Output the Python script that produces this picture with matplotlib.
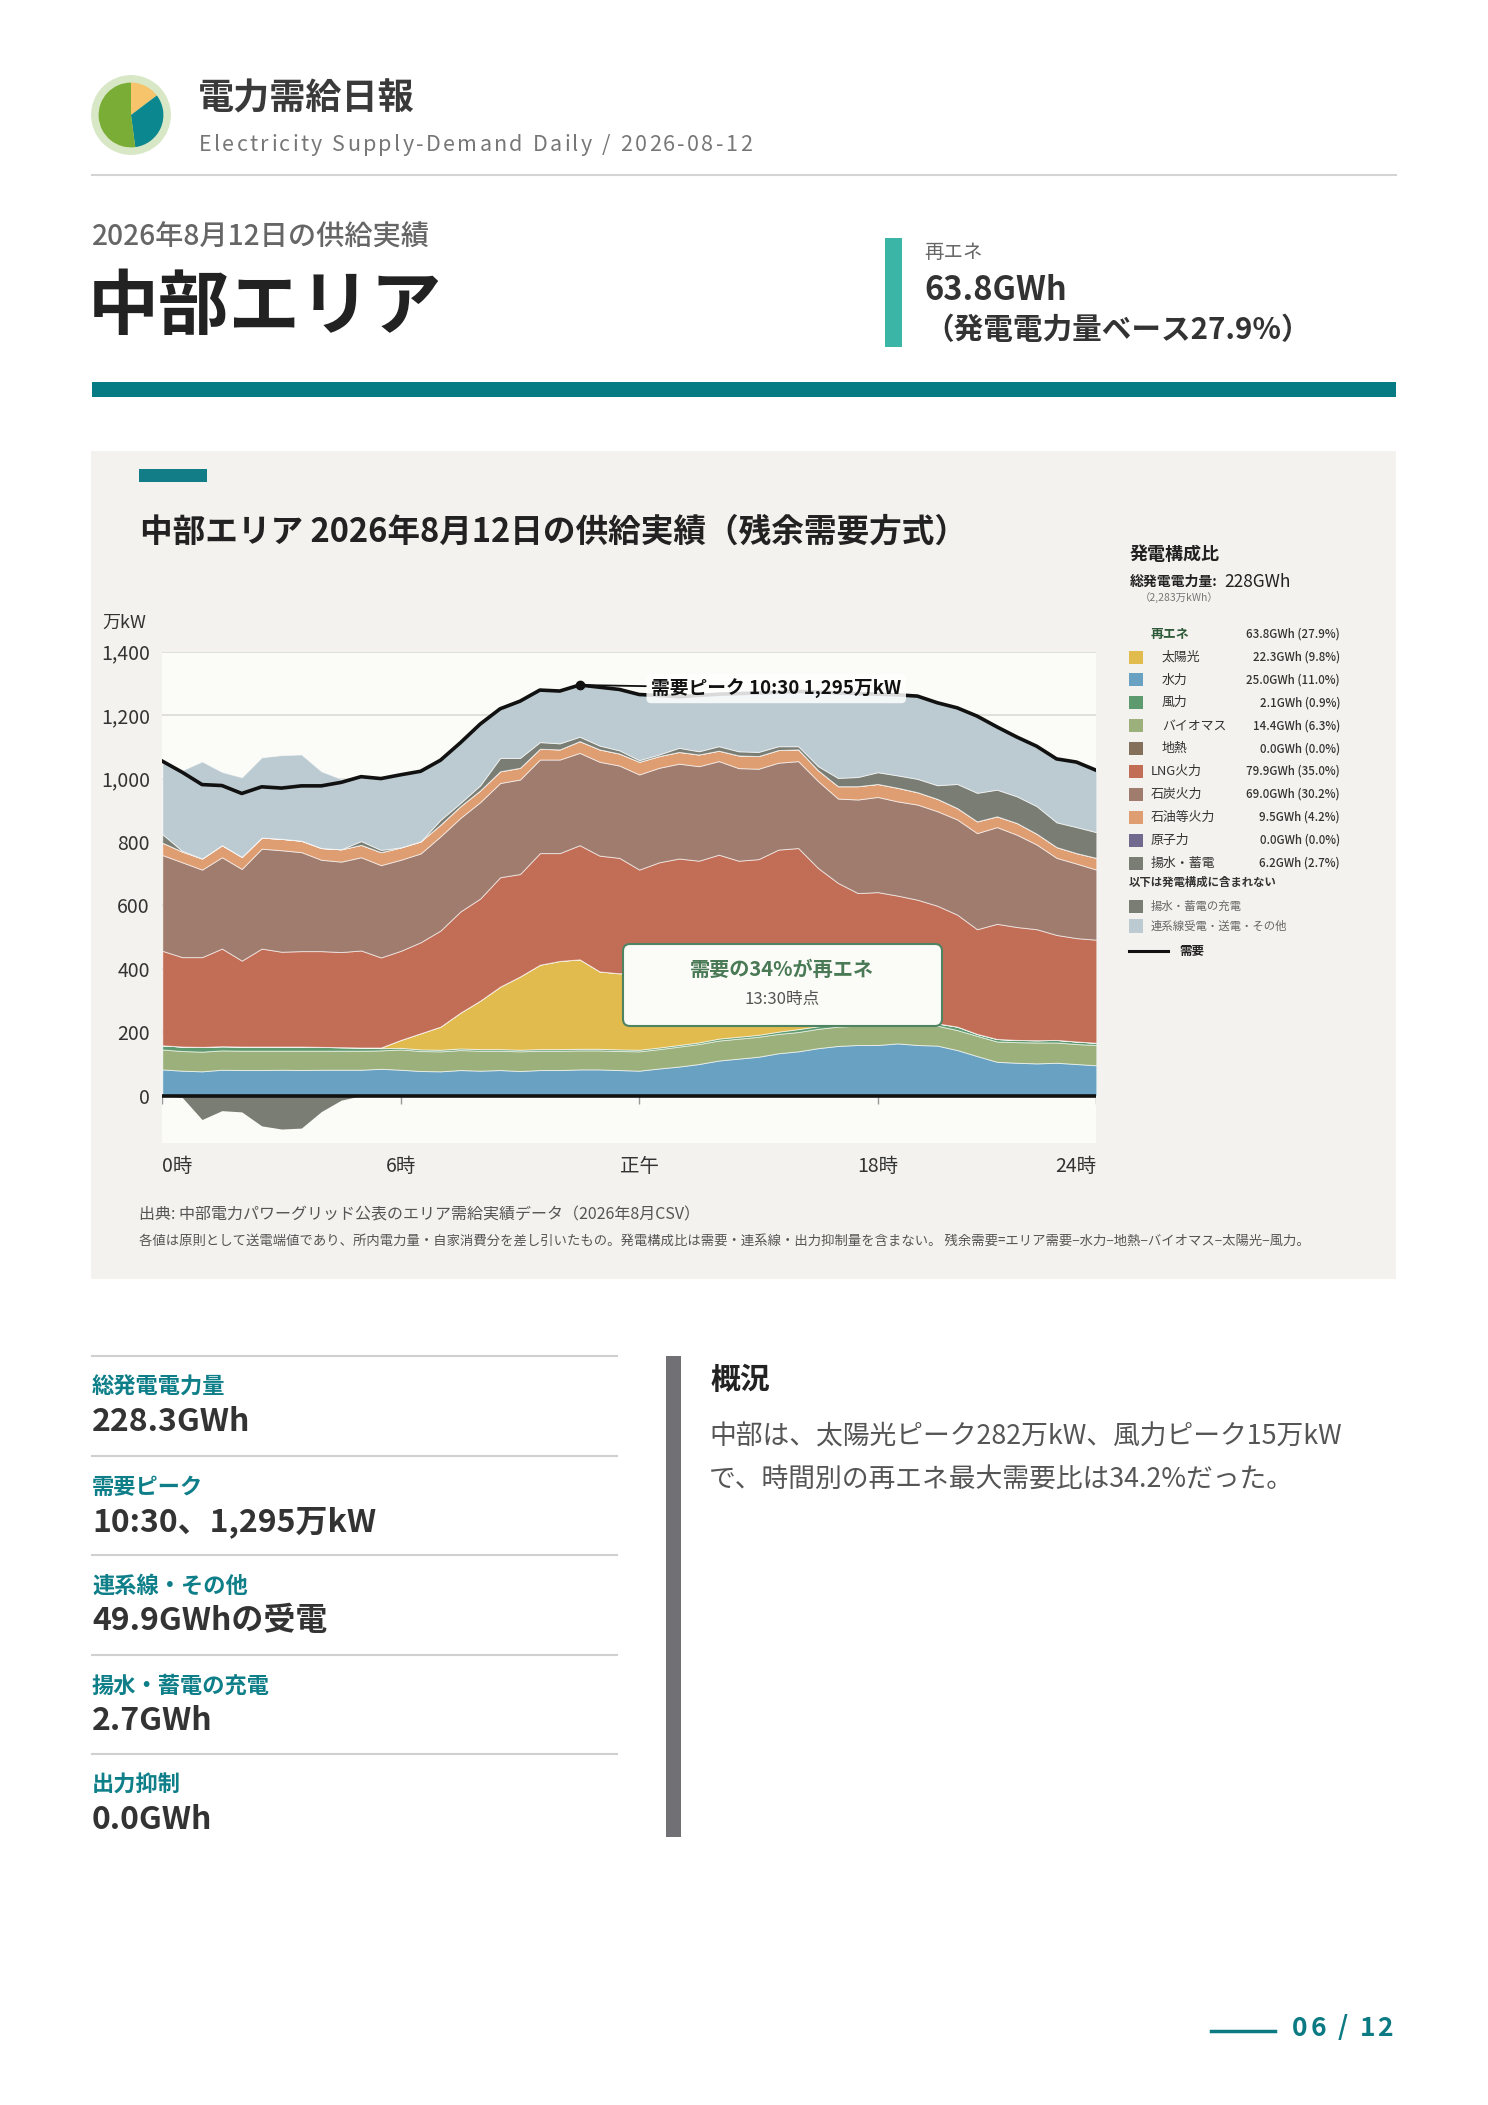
import numpy as np
import matplotlib.pyplot as plt
from matplotlib.patches import Rectangle, FancyBboxPatch
from matplotlib.lines import Line2D
from matplotlib.transforms import IdentityTransform

plt.rcParams['font.family'] = ['Noto Sans CJK JP', 'DejaVu Sans']

# 30-minute values, 万kW (index 0 = 0:00 ... 47 = 23:30)
hydro = [83, 79, 77, 82, 81, 81, 82, 81, 82, 82,
         82, 85, 82, 78, 77, 81, 79, 81, 78, 81,
         81, 83, 83, 81, 79, 86, 92, 100, 111, 117,
         123, 134, 140, 150, 157, 160, 160, 165, 160, 158,
         144, 125, 107, 104, 102, 104, 100, 96]
biomass = [63, 62, 62, 61, 61, 61, 60, 61, 60, 60,
           60, 58, 64, 63, 63, 63, 63, 61, 62, 61,
           61, 60, 60, 60, 61, 61, 63, 63, 63, 63,
           63, 61, 61, 61, 61, 61, 62, 58, 62, 63,
           63, 64, 64, 65, 66, 64, 63, 64]
wind = [13, 14, 15, 13, 13, 13, 13, 13, 12, 11,
        10, 7, 5, 5, 5, 5, 5, 5, 5, 5,
        5, 5, 5, 5, 5, 5, 5, 5, 6, 6,
        6, 7, 9, 8, 7, 7, 7, 7, 7, 7,
        11, 6, 8, 7, 7, 8, 8, 7]
solar = [0, 0, 0, 0, 0, 0, 0, 0, 0, 0,
         0, 2, 25, 51, 73, 113, 153, 197, 231, 266,
         278, 282, 244, 240, 245, 258, 265, 264, 245, 230,
         200, 158, 120, 71, 35, 17, 6, 3, 1, 0,
         0, 0, 0, 0, 0, 0, 0, 0]
geothermal = [0] * 48
lng = [298, 282, 283, 308, 271, 309, 299, 301, 302, 300,
       306, 284, 281, 287, 303, 319, 322, 345, 323, 352,
       340, 360, 365, 364, 323, 326, 323, 309, 335, 325,
       354, 416, 451, 428, 411, 394, 407, 398, 388, 371,
       353, 330, 363, 356, 350, 331, 326, 325]
coal = [302, 299, 276, 288, 289, 315, 320, 312, 288, 285,
        294, 291, 287, 280, 297, 295, 304, 297, 298, 295,
        295, 291, 296, 291, 300, 298, 299, 298, 295, 292,
        285, 274, 274, 274, 266, 295, 300, 297, 300, 298,
        300, 303, 305, 291, 267, 243, 235, 221]
oil = [39, 34, 35, 38, 38, 35, 36, 36, 37, 39,
       39, 41, 39, 38, 37, 37, 37, 37, 37, 34,
       32, 37, 39, 38, 40, 37, 37, 37, 33, 40,
       40, 40, 37, 34, 39, 42, 41, 43, 39, 39,
       36, 37, 34, 37, 34, 34, 33, 37]
nuclear = [0] * 48
pumped = [27, 2, 0, 0, 0, 0, 0, 0, 0, 0,
          12, 7, 0, 0, 15, 10, 16, 42, 31, 21,
          19, 14, 12, 10, 5, 5, 13, 10, 14, 13,
          13, 12, 10, 13, 26, 29, 37, 39, 42, 43,
          76, 90, 84, 84, 87, 78, 82, 81]
interconnect = [230, 254, 306, 231, 251, 253, 264, 272, 242, 222,
                203, 225, 229, 221, 188, 190, 193, 155, 179, 164,
                165, 163, 184, 192, 207, 186, 161, 176, 164, 182,
                186, 170, 173, 234, 268, 263, 246, 254, 261, 260,
                240, 242, 198, 187, 189, 200, 205, 195]
charge = [0, -5, -75, -47, -51, -95, -105, -102, -50, -14] + [0] * 38
demand = [1055, 1020, 981, 978, 953, 974, 970, 977, 977, 988,
          1006, 1000, 1012, 1023, 1058, 1113, 1172, 1220, 1244, 1279,
          1276, 1295, 1288, 1281, 1265, 1262, 1258, 1262, 1266, 1268,
          1270, 1272, 1275, 1273, 1270, 1268, 1266, 1264, 1260, 1239,
          1223, 1197, 1163, 1131, 1102, 1062, 1052, 1026]

tick_pos = [0, 12, 24, 36, 47]
tick_labels = ['0時', '6時', '正午', '18時', '24時']

colors = {
    'solar': '#e2bb4e', 'hydro': '#68a1c2', 'wind': '#5d9a6e', 'biomass': '#9bb07a',
    'geo': '#84705a', 'lng': '#c26e57', 'coal': '#a07c6e', 'oil': '#df9d72',
    'nuclear': '#716a8e', 'pumped': '#7a7d73', 'inter': '#bccbd1',
}

legend_rows = [
    ('太陽光', '22.3GWh (9.8%)', colors['solar'], True),
    ('水力', '25.0GWh (11.0%)', colors['hydro'], True),
    ('風力', '2.1GWh (0.9%)', colors['wind'], True),
    ('バイオマス', '14.4GWh (6.3%)', colors['biomass'], True),
    ('地熱', '0.0GWh (0.0%)', colors['geo'], True),
    ('LNG火力', '79.9GWh (35.0%)', colors['lng'], False),
    ('石炭火力', '69.0GWh (30.2%)', colors['coal'], False),
    ('石油等火力', '9.5GWh (4.2%)', colors['oil'], False),
    ('原子力', '0.0GWh (0.0%)', colors['nuclear'], False),
    ('揚水・蓄電', '6.2GWh (2.7%)', colors['pumped'], False),
]

kpi_labels = ['総発電電力量', '需要ピーク', '連系線・その他', '揚水・蓄電の充電', '出力抑制']
kpi_values = ['228.3GWh', '10:30、1,295万kW', '49.9GWhの受電', '2.7GWh', '0.0GWh']

W, H = 1488, 2105
fig = plt.figure(figsize=(W / 100, H / 100), dpi=100)
fig.patch.set_facecolor('white')
renderer = fig.canvas.get_renderer()


def fx(x):
    return x / W


def fy(y):
    return 1 - y / H


def txt(x, y, s, size, color='#333', weight='normal', ha='left', va='center', **kw):
    return fig.text(fx(x), fy(y), s, fontsize=size, color=color, fontweight=weight,
                    ha=ha, va=va, **kw)


def spaced(x, y, s, size, gap, color='#333', weight='normal', ha='left'):
    # letter-spaced text, one glyph at a time
    widths = []
    for ch in s:
        t = txt(0, 0, ch, size, color, weight)
        widths.append(t.get_window_extent(renderer).width if ch != ' ' else size * 0.35)
        t.remove()
    total = sum(widths) + gap * (len(s) - 1)
    cx = x if ha == 'left' else x - total
    for ch, w in zip(s, widths):
        if ch != ' ':
            txt(cx, y, ch, size, color, weight)
        cx += w + gap


def rect(x0, y0, x1, y1, color, z=0):
    fig.add_artist(Rectangle((fx(x0), fy(y1)), fx(x1) - fx(x0), fy(y0) - fy(y1),
                             transform=fig.transFigure, facecolor=color,
                             edgecolor='none', zorder=z))


def hline(x0, x1, y, color, lw):
    fig.add_artist(Line2D([fx(x0), fx(x1)], [fy(y), fy(y)], color=color, lw=lw,
                          transform=fig.transFigure))


# header icon
icon = fig.add_axes([fx(131 - 40), fy(115 + 40), 80 / W, 80 / H])
icon.add_patch(plt.Circle((0, 0), 0.98, color='#d8e7c5'))
icon.pie([14.7, 33.2, 52.1], colors=['#f7c46c', '#0b8790', '#7aad35'], radius=0.81,
         startangle=90, counterclock=False, wedgeprops=dict(linewidth=0))
icon.set_xlim(-1.0, 1.0)
icon.set_ylim(-1.0, 1.0)
icon.set_aspect('equal')
icon.axis('off')

txt(198, 99, '電力需給日報', 26, '#3a3a3a', 'bold')
spaced(199, 145, 'Electricity Supply-Demand Daily / 2026-08-12', 15.5, 2.3, '#777')
hline(92, 1396, 175, '#d4d4d4', 1.5)

txt(92, 237, '2026年8月12日の供給実績', 20.3, '#666', 'medium')
txt(88, 308, '中部エリア', 51, '#222', 'bold')
rect(885, 238, 902, 347, '#3bb5a5')
txt(924, 253, '再エネ', 14, '#666')
txt(924, 290, '63.8GWh', 23.5, '#333', 'bold')
txt(924, 330, '（発電電力量ベース27.9%）', 21.3, '#333', 'bold')
rect(92, 382, 1396, 397, '#067b84')

# chart panel
rect(91, 451, 1396, 1279, '#f3f2ee', z=-1)
rect(139, 469, 207, 482, '#137d87')
txt(140, 532, '中部エリア 2026年8月12日の供給実績（残余需要方式）', 23.5, '#222', 'bold')
txt(102, 623, '万kW', 13, '#333')

ax = fig.add_axes([fx(162.3), fy(1143.3), (1096.3 - 162.3) / W, (1143.3 - 651.7) / H])
x = np.arange(48)
ax.set_facecolor('#fbfbf7')
for s in ax.spines.values():
    s.set_visible(False)
for v in range(200, 1401, 200):
    ax.axhline(v, color='#dedcd6', lw=1.3, zorder=0.5)

ax.stackplot(x, hydro, biomass, wind, solar, geothermal, lng, coal, oil, nuclear,
             pumped, interconnect,
             colors=[colors['hydro'], colors['biomass'], colors['wind'], colors['solar'],
                     colors['geo'], colors['lng'], colors['coal'], colors['oil'],
                     colors['nuclear'], colors['pumped'], colors['inter']],
             edgecolor=(1, 1, 1, 0.6), linewidth=0.7, zorder=1)
ax.fill_between(x, charge, 0, color=colors['pumped'], lw=0, zorder=1)
ax.axhline(0, color='#111', lw=2.6, zorder=4)
ax.vlines(tick_pos, -25, 0, colors='#999', lw=1, zorder=3)
ax.plot(x, demand, color='#111', lw=2.6, zorder=4)

peak_i = int(np.argmax(demand))
ax.plot(peak_i, demand[peak_i], 'o', color='#111', ms=6, zorder=5)
ax.annotate('需要ピーク 10:30 1,295万kW', xy=(peak_i, demand[peak_i]),
            xytext=(24.6, 1284), fontsize=13.5, fontweight='bold', color='#111',
            ha='left', va='center', zorder=6,
            bbox=dict(boxstyle='round,pad=0.25', fc='white', ec='none', alpha=0.85),
            arrowprops=dict(arrowstyle='-', color='#111', lw=1.3, shrinkA=0, shrinkB=0))

ax.set_xlim(0, 47)
ax.set_ylim(-150, 1400)
ax.set_yticks(range(0, 1401, 200))
ax.set_yticklabels([f'{v:,}' for v in range(0, 1401, 200)])
ax.tick_params(axis='y', length=0, pad=9, labelsize=14, labelcolor='#333')
ax.set_xticks(tick_pos)
ax.set_xticklabels(tick_labels)
ax.tick_params(axis='x', length=0, pad=9, labelsize=14, labelcolor='#333')
xl = ax.get_xticklabels()
xl[0].set_ha('left')
xl[-1].set_ha('right')

# renewable share call-out
fig.add_artist(FancyBboxPatch((623, H - 1026), 319, 82,
                              boxstyle='round,pad=0,rounding_size=7',
                              transform=IdentityTransform(), fc='#fbfbf8',
                              ec='#4f8463', lw=1.5, zorder=5))
txt(782, 969, '需要の34%が再エネ', 14.5, '#4a7a55', 'bold', ha='center', zorder=6)
txt(782, 999, '13:30時点', 12, '#555', ha='center', zorder=6)

# legend panel
txt(1130, 555, '発電構成比', 13, '#222', 'bold')
txt(1130, 582, '総発電電力量:', 10, '#222', 'bold')
txt(1224, 582, '228GWh', 12.5, '#222')
txt(1140, 598, '（2,283万kWh）', 7.5, '#777')
txt(1151, 634, '再エネ', 9.3, '#2f5a3a', 'bold')
txt(1340, 634, '63.8GWh (27.9%)', 8.3, '#333', 'medium', ha='right')
for k, (name, val, col, indent) in enumerate(legend_rows):
    yy = 657 + 22.9 * k
    rect(1129, yy - 6.5, 1143, yy + 6.5, col)
    txt(1162 if indent else 1151, yy, name, 9.3, '#333')
    txt(1340, yy, val, 8.3, '#333', 'medium', ha='right')
txt(1129, 882, '以下は発電構成に含まれない', 8.2, '#333', 'bold')
rect(1129, 899.5, 1143, 912.5, colors['pumped'])
txt(1151, 906, '揚水・蓄電の充電', 8.2, '#666')
rect(1129, 919.5, 1143, 932.5, colors['inter'])
txt(1151, 926, '連系線受電・送電・その他', 8.2, '#666')
hline(1129, 1168, 951, '#111', 2.2)
txt(1179, 951, '需要', 9, '#222', 'bold')

# notes
txt(139, 1215, '出典: 中部電力パワーグリッド公表のエリア需給実績データ（2026年8月CSV）', 11.5, '#555')
txt(139, 1242, '各値は原則として送電端値であり、所内電力量・自家消費分を差し引いたもの。発電構成比は需要・連系線・出力抑制量を含まない。'
    ' 残余需要=エリア需要−水力−地熱−バイオマス−太陽光−風力。', 9.6, '#555')

# KPI list
seps = [1356, 1456, 1555, 1655, 1754]
for s, lab, val in zip(seps, kpi_labels, kpi_values):
    hline(92, 617, s, '#d0d0d0', 1.5)
    txt(92, s + 31, lab, 16, '#0e7f88', 'bold')
    txt(92, s + 66, val, 23, '#333', 'bold')

# summary
rect(666, 1356, 681, 1837, '#717175')
txt(711, 1380, '概況', 21.5, '#222', 'bold')
txt(709, 1437, '中部は、太陽光ピーク282万kW、風力ピーク15万kW', 19.3, '#555')
txt(709, 1479, 'で、時間別の再エネ最大需要比は34.2%だった。', 19.3, '#555')

# footer
hline(1211, 1275, 2031, '#0b7a83', 2.5)
spaced(1393, 2028, '06 / 12', 19, 2.5, '#0b7a83', 'bold', ha='right')

fig.savefig('out.png', dpi=100)
